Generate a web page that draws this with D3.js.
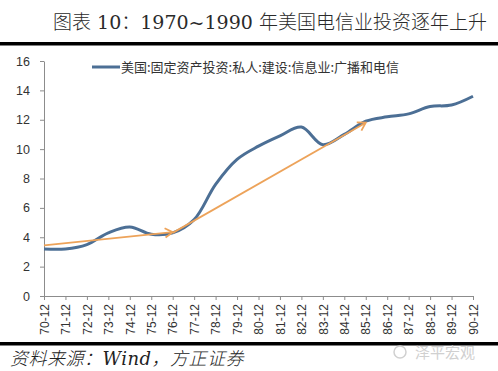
<!DOCTYPE html>
<html>
<head>
<meta charset="utf-8">
<script src="https://cdn.jsdelivr.net/npm/d3@7"></script>
<style>
  body { margin: 0; background: #fff; }
  svg { display: block; }
</style>
</head>
<body>
<div id="chart"></div>
<script>
// chart data
const categories = ["70-12","71-12","72-12","73-12","74-12","75-12","76-12","77-12","78-12","79-12",
  "80-12","81-12","82-12","83-12","84-12","85-12","86-12","87-12","88-12","89-12","90-12"];
const values = [3.2, 3.2, 3.5, 4.3, 4.7, 4.2, 4.3, 5.2, 7.6, 9.3,
  10.2, 10.9, 11.5, 10.3, 11.0, 11.9, 12.2, 12.4, 12.9, 13.0, 13.6];
const yTicks = [0, 2, 4, 6, 8, 10, 12, 14, 16];
// trend arrows: [startIndex, startValue, endIndex, endValue]
const arrows = [
  [0, 3.45, 6, 4.35],
  [6, 4.3, 15, 11.8]
];
const seriesName = "美国:固定资产投资:私人:建设:信息业:广播和电信";
const titleText = "图表 10：1970~1990 年美国电信业投资逐年上升";
const sourceText = "资料来源：Wind，方正证券";

const width = 498, height = 371;
const margin = { left: 44, right: 25, top: 61, bottom: 75 };

const svg = d3.select("#chart").append("svg")
  .attr("width", width)
  .attr("height", height);

// title
svg.append("text")
  .attr("x", 53).attr("y", 29)
  .attr("font-family", "'DejaVu Serif', 'Noto Sans CJK SC', serif")
  .attr("font-size", "19px")
  .attr("font-weight", 300)
  .attr("fill", "#2a2a2a")
  .text(titleText);

svg.append("rect")
  .attr("x", 0).attr("y", 42).attr("width", width).attr("height", 3.5)
  .attr("fill", "#000");

const x = d3.scalePoint()
  .domain(categories)
  .range([margin.left, width - margin.right]);

const y = d3.scaleLinear()
  .domain([0, 16])
  .range([height - margin.bottom, margin.top]);

// y axis
const yAxis = svg.append("g")
  .attr("transform", `translate(${margin.left},0)`)
  .call(d3.axisLeft(y).tickValues(yTicks).tickSize(4).tickPadding(10).tickSizeOuter(0));
yAxis.select(".domain").attr("stroke", "#8c8c8c");
yAxis.selectAll(".tick line").attr("stroke", "#8c8c8c");
yAxis.selectAll("text")
  .attr("font-family", "'Liberation Sans', Arial, sans-serif")
  .attr("font-size", "12.5px")
  .attr("fill", "#333");

// x axis
const xAxis = svg.append("g")
  .attr("transform", `translate(0,${height - margin.bottom})`)
  .call(d3.axisBottom(x).tickSize(4).tickSizeOuter(0));
xAxis.select(".domain").attr("stroke", "#8c8c8c");
xAxis.selectAll(".tick line").attr("stroke", "#8c8c8c");
xAxis.selectAll("text")
  .attr("font-family", "'Liberation Sans', Arial, sans-serif")
  .attr("font-size", "12px")
  .attr("fill", "#333")
  .attr("text-anchor", "end")
  .attr("transform", "rotate(-90)")
  .attr("x", -8)
  .attr("y", 0)
  .attr("dy", "0.35em");

// series line
const line = d3.line()
  .x((d, i) => x(categories[i]))
  .y(d => y(d))
  .curve(d3.curveCatmullRom.alpha(0.5));

svg.append("path")
  .datum(values)
  .attr("fill", "none")
  .attr("stroke", "#4c6f95")
  .attr("stroke-width", 3)
  .attr("d", line);

// orange trend arrows
const orange = "#eda35a";
arrows.forEach(a => {
  const x1 = x(categories[a[0]]), y1 = y(a[1]);
  const x2 = x(categories[a[2]]), y2 = y(a[3]);
  svg.append("line")
    .attr("x1", x1).attr("y1", y1).attr("x2", x2).attr("y2", y2)
    .attr("stroke", orange).attr("stroke-width", 1.8);
  const ang = Math.atan2(y2 - y1, x2 - x1);
  const len = 9, spread = 0.55;
  const p = (t) => [x2 - len * Math.cos(ang + t), y2 - len * Math.sin(ang + t)];
  svg.append("path")
    .attr("d", `M${p(spread)}L${x2},${y2}L${p(-spread)}`)
    .attr("fill", "none")
    .attr("stroke", orange).attr("stroke-width", 1.8);
});

// legend
svg.append("line")
  .attr("x1", 92).attr("x2", 120).attr("y1", 67).attr("y2", 67)
  .attr("stroke", "#4c6f95").attr("stroke-width", 3);
svg.append("text")
  .attr("x", 121).attr("y", 71.5)
  .attr("font-family", "'Noto Sans CJK SC', sans-serif")
  .attr("font-size", "13px")
  .attr("fill", "#333")
  .text(seriesName);

// bottom rule and source
svg.append("rect")
  .attr("x", 0).attr("y", 342).attr("width", width).attr("height", 3.5)
  .attr("fill", "#000");

svg.append("text")
  .attr("x", 10).attr("y", 365)
  .attr("font-family", "'DejaVu Serif', 'Noto Sans CJK SC', serif")
  .attr("font-style", "italic")
  .attr("font-size", "18px")
  .attr("font-weight", 300)
  .attr("letter-spacing", "0.5px")
  .attr("fill", "#222")
  .text(sourceText);

// watermark
svg.append("text")
  .attr("x", 415).attr("y", 358)
  .attr("font-family", "'Noto Sans CJK SC', sans-serif")
  .attr("font-size", "15px")
  .attr("fill", "#d0d0d0")
  .text("泽平宏观");
svg.append("circle")
  .attr("cx", 400).attr("cy", 352).attr("r", 6)
  .attr("fill", "none").attr("stroke", "#d0d0d0").attr("stroke-width", 1.5);
</script>
</body>
</html>
